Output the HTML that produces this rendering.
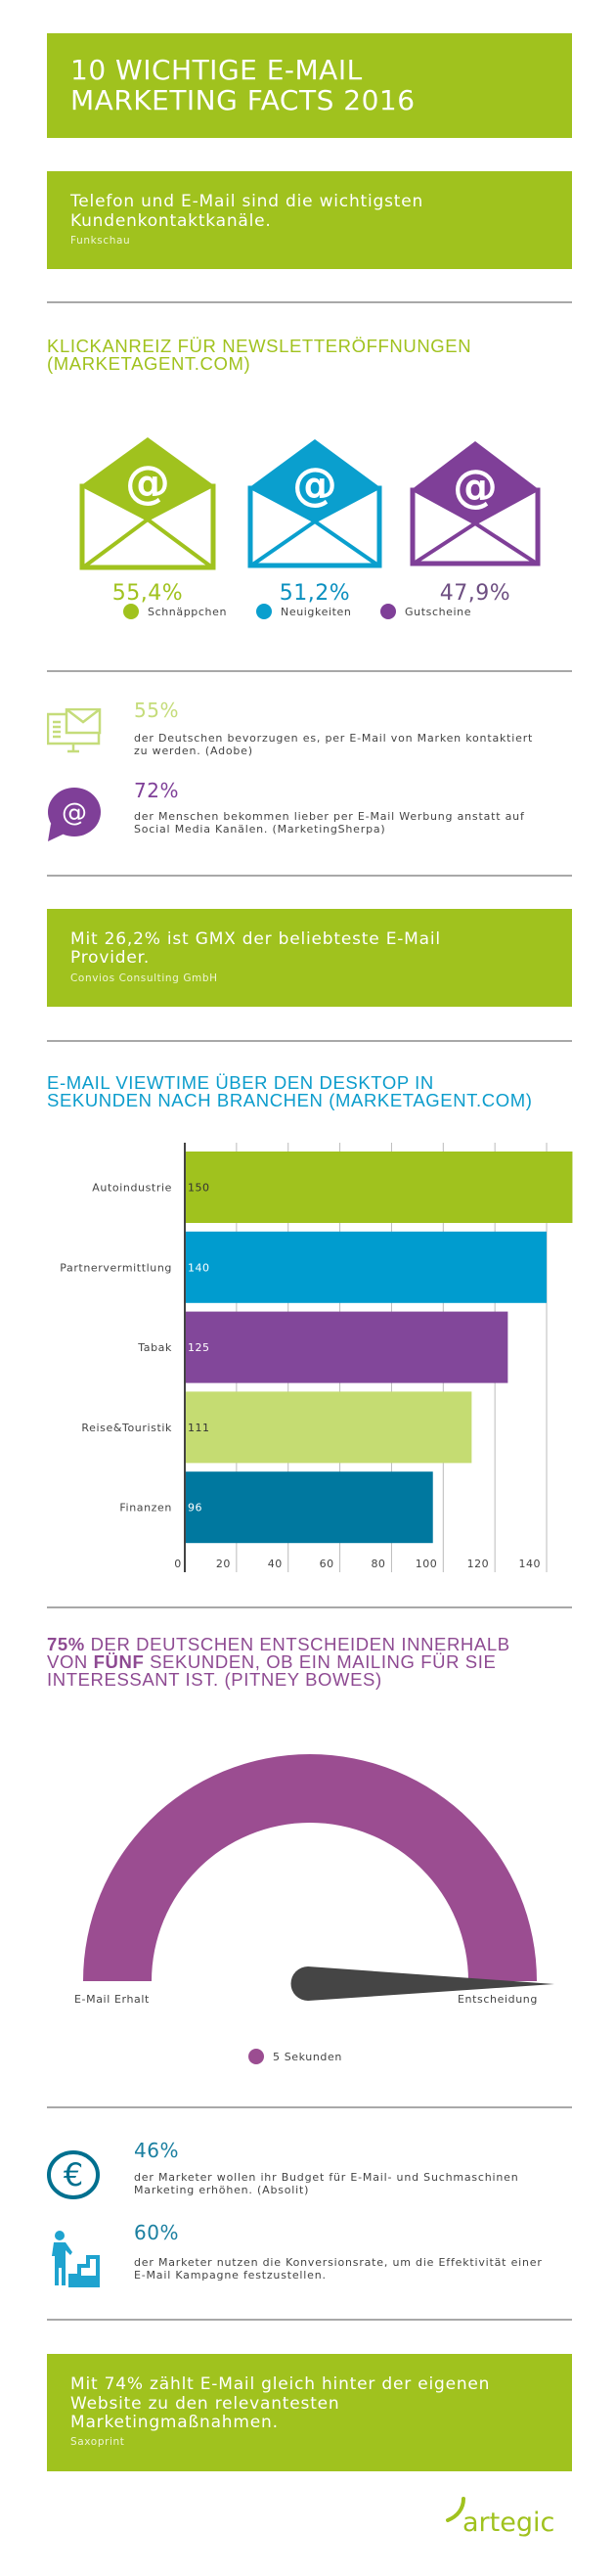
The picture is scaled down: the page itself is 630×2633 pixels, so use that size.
<!DOCTYPE html>
<html><head><meta charset="utf-8"><style>
body{margin:0;width:630px;height:2633px;background:#fff;position:relative;overflow:hidden;font-family:"DejaVu Sans","Liberation Sans",sans-serif;}
.a{position:absolute;white-space:nowrap;}
.box{position:absolute;left:48px;width:537px;background:#a0c21e;}
.hr{position:absolute;left:48px;width:537px;height:2px;background:#a8a8a8;}
.h{font-family:"Liberation Sans",sans-serif;font-size:18.5px;line-height:18px;letter-spacing:0.6px;}
.pct{font-size:20px;letter-spacing:0.5px;}
.desc{font-size:11px;line-height:13px;color:#444;letter-spacing:0.8px;}
</style></head><body>

<div class="box" style="top:34px;height:107px;"></div>
<div class="a" style="left:72px;top:56px;color:#fff;font-size:28px;line-height:31px;letter-spacing:0.5px;">10 WICHTIGE E-MAIL<br>MARKETING FACTS 2016</div>

<div class="box" style="top:175px;height:100px;"></div>
<div class="a" style="left:72px;top:196px;color:#fff;font-size:17px;line-height:20px;letter-spacing:0.8px;">Telefon und E-Mail sind die wichtigsten<br>Kundenkontaktkanäle.</div>
<div class="a" style="left:72px;top:240px;color:#eef5d4;font-size:10.5px;letter-spacing:0.6px;">Funkschau</div>

<div class="hr" style="top:308px;"></div>

<div class="a h" style="left:48px;top:345px;color:#a0c21e;">KLICKANREIZ FÜR NEWSLETTERÖFFNUNGEN<br>(MARKETAGENT.COM)</div>

<svg class="a" id="env" style="left:0;top:430px;" width="630" height="210"></svg>

<div class="hr" style="top:685px;"></div>

<svg class="a" style="left:48px;top:724px;" width="56" height="50">
<g fill="none" stroke="#c5dc7a" stroke-width="2.5">
<rect x="1" y="6" width="52" height="30"/><line x1="21" y1="44" x2="33" y2="44"/><line x1="27" y1="36" x2="27" y2="44"/>
<rect x="20" y="1" width="34" height="24" fill="#fff"/><polyline points="20,1 37,14 54,1"/>
<line x1="6" y1="14" x2="14" y2="14"/><line x1="6" y1="19" x2="14" y2="19"/><line x1="6" y1="24" x2="14" y2="24"/><line x1="6" y1="29" x2="14" y2="29"/>
</g></svg>
<div class="a pct" style="left:137px;top:714px;color:#c5dc7a;">55%</div>
<div class="a desc" style="left:137px;top:748px;">der Deutschen bevorzugen es, per E-Mail von Marken kontaktiert<br>zu werden. (Adobe)</div>

<svg class="a" style="left:48px;top:804px;" width="56" height="58">
<ellipse cx="28" cy="26" rx="27" ry="25" fill="#7f3f98"/><path d="M4,38 L1,56 L18,48 Z" fill="#7f3f98"/>
<text x="28" y="35" text-anchor="middle" fill="#fff" font-size="26" font-family="DejaVu Sans">@</text></svg>
<div class="a pct" style="left:137px;top:796px;color:#7f3f98;">72%</div>
<div class="a desc" style="left:137px;top:828px;">der Menschen bekommen lieber per E-Mail Werbung anstatt auf<br>Social Media Kanälen. (MarketingSherpa)</div>

<div class="hr" style="top:894px;"></div>

<div class="box" style="top:929px;height:100px;"></div>
<div class="a" style="left:72px;top:951px;color:#fff;font-size:17px;line-height:19px;letter-spacing:0.8px;">Mit 26,2% ist GMX der beliebteste E-Mail<br>Provider.</div>
<div class="a" style="left:72px;top:994px;color:#eef5d4;font-size:10.5px;letter-spacing:0.6px;">Convios Consulting GmbH</div>

<div class="hr" style="top:1063px;"></div>

<div class="a h" style="left:48px;top:1098px;color:#0b9ccc;">E-MAIL VIEWTIME ÜBER DEN DESKTOP IN<br>SEKUNDEN NACH BRANCHEN (MARKETAGENT.COM)</div>

<svg class="a" id="bars" style="left:0;top:1160px;" width="630" height="460"></svg>

<div class="hr" style="top:1642px;"></div>

<div class="a h" style="left:48px;top:1672px;color:#8e4a92;"><b>75%</b> DER DEUTSCHEN ENTSCHEIDEN INNERHALB<br>VON <b>FÜNF</b> SEKUNDEN, OB EIN MAILING FÜR SIE<br>INTERESSANT IST. (PITNEY BOWES)</div>

<svg class="a" id="gauge" style="left:0;top:1780px;" width="630" height="340"></svg>

<div class="hr" style="top:2153px;"></div>

<svg class="a" style="left:48px;top:2197px;" width="56" height="54">
<ellipse cx="27" cy="26" rx="25" ry="23" fill="none" stroke="#00708f" stroke-width="4"/>
<text x="27" y="37" text-anchor="middle" fill="#00708f" font-size="32" font-family="DejaVu Sans">€</text></svg>
<div class="a pct" style="left:137px;top:2186px;color:#1a7fa0;">46%</div>
<div class="a desc" style="left:137px;top:2219px;">der Marketer wollen ihr Budget für E-Mail- und Suchmaschinen<br>Marketing erhöhen. (Absolit)</div>

<svg class="a" style="left:52px;top:2280px;" width="50" height="58">
<g fill="#1fa3cf"><circle cx="9" cy="5" r="5"/><path d="M3,12 H15 L22,22 L20,25 L15,20 V56 H11 V38 H8 V56 H4 V26 H1 Z"/>
<path d="M20,56 V46 H29 V36 H38 V27 H48 V56 Z" fill="none" stroke="#1fa3cf" stroke-width="4"/><rect x="20" y="46" width="28" height="10"/></g></svg>
<div class="a pct" style="left:137px;top:2270px;color:#1a7fa0;">60%</div>
<div class="a desc" style="left:137px;top:2306px;">der Marketer nutzen die Konversionsrate, um die Effektivität einer<br>E-Mail Kampagne festzustellen.</div>

<div class="hr" style="top:2370px;"></div>

<div class="box" style="top:2406px;height:120px;"></div>
<div class="a" style="left:72px;top:2428px;color:#fff;font-size:17px;line-height:19.5px;letter-spacing:0.8px;">Mit 74% zählt E-Mail gleich hinter der eigenen<br>Website zu den relevantesten<br>Marketingmaßnahmen.</div>
<div class="a" style="left:72px;top:2490px;color:#eef5d4;font-size:10.5px;letter-spacing:0.6px;">Saxoprint</div>

<svg class="a" style="left:450px;top:2548px;" width="140" height="50">
<path d="M24,6 C24,16 18,24 8,28" fill="none" stroke="#a0c21e" stroke-width="4" stroke-linecap="round"/>
<text x="23" y="39" fill="#a0c21e" font-size="27" font-family="DejaVu Sans">artegic</text></svg>

<script>
const NS="http://www.w3.org/2000/svg";
function mk(p,t,a){const e=document.createElementNS(NS,t);for(const k in a)e.setAttribute(k,a[k]);p.appendChild(e);return e;}

/* envelope chart */
const envCats=["Schnäppchen","Neuigkeiten","Gutscheine"];
const envValues=[55.4,51.2,47.9];
const envColors=["#a0c21e","#0a9fce","#7f3f98"];
const envLabelColors=["#a0c21e","#0a8fbf","#6e4f82"];
const env=document.getElementById('env');
const envX=[82,254,420], envW=[138,136,132];
envCats.forEach((c,i)=>{
  const x=envX[i], w=envW[i], top=17+i*2, h=135-i*4, c2=envColors[i];
  const g=mk(env,'g',{});
  
  
  mk(g,'rect',{x:x+2,y:top+50,width:w-4,height:h-52,fill:'none',stroke:c2,'stroke-width':5});
  mk(g,'polygon',{points:`${x},${top+50} ${x+w/2},${top} ${x+w},${top+50} ${x+w/2},${top+86}`,fill:c2});
  mk(g,'polyline',{points:`${x+3},${top+h-2} ${x+w/2},${top+84} ${x+w-3},${top+h-2}`,fill:'none',stroke:c2,'stroke-width':4});
  const at=mk(g,'text',{x:x+w/2,y:top+62,'text-anchor':'middle',fill:'#fff','font-size':46,'font-family':'DejaVu Sans','font-weight':'bold'});at.textContent='@';
  const t=mk(env,'text',{x:x+w/2,y:183,'text-anchor':'middle',fill:envLabelColors[i],'font-size':22,'font-family':'DejaVu Sans','letter-spacing':'0.5'});
  t.textContent=envValues[i].toFixed(1).replace('.',',')+'%';
  
  
  const lx=[134,270,397][i];
  const dot=mk(env,'circle',{cx:lx,cy:195,r:8,fill:c2});
  
  
  const lt=mk(env,'text',{x:lx+17,y:199,fill:'#444','font-size':11,'font-family':'DejaVu Sans','letter-spacing':'0.6'});
  lt.textContent=c;
  
  
});

/* bar chart */
const barCats=["Autoindustrie","Partnervermittlung","Tabak","Reise&Touristik","Finanzen"];
const barValues=[150,140,125,111,96];
const barColors=["#a0c21e","#009ccf","#82479a","#c5dc72","#00789f"];
const valColors=["#333","#fff","#fff","#333","#fff"];
const xTicks=[0,20,40,60,80,100,120,140];
const bars=document.getElementById('bars');
const x0=189, pxPer=2.643, yTop=17, band=81.8, barH=73, gridTop=8, gridBot=447;
const xs=v=>x0+v*pxPer, ys=i=>yTop+i*band;
xTicks.forEach(t=>{
  if(t>0){const l=mk(bars,'line',{x1:xs(t),x2:xs(t),y1:gridTop,y2:gridBot,stroke:'#bbb','stroke-width':1});
  
  }
  const tx=mk(bars,'text',{x:t===0?x0-7:xs(t)-6,y:442,'text-anchor':t===0?'middle':'end',fill:'#444','font-size':11,'font-family':'DejaVu Sans','letter-spacing':'0.5'});
  tx.textContent=t;
  
  
});
barCats.forEach((c,i)=>{
  const r=mk(bars,'rect',{x:x0,y:ys(i),width:xs(barValues[i])-x0,height:barH,fill:barColors[i]});
  
  
  const l=mk(bars,'text',{x:176,y:ys(i)+barH/2+4,'text-anchor':'end',fill:'#444','font-size':11,'font-family':'DejaVu Sans','letter-spacing':'0.6'});
  l.textContent=c;
  
  
  const v=mk(bars,'text',{x:x0+3,y:ys(i)+barH/2+4,fill:valColors[i],'font-size':11,'font-family':'DejaVu Sans','letter-spacing':'0.5'});
  v.textContent=barValues[i];
  
  
});
const ax=mk(bars,'line',{x1:x0,x2:x0,y1:gridTop,y2:gridBot,stroke:'#444','stroke-width':2});



/* gauge */
const gaugeValue=[5];
const gaugeMax=[5];
const g=document.getElementById('gauge');
const cx=317, cy=245, R=232, r=162;
const arc=mk(g,'path',{d:`M${cx-R},${cy} A${R},${R} 0 0 1 ${cx+R},${cy} L${cx+r},${cy} A${r},${r} 0 0 0 ${cx-r},${cy} Z`,fill:'#9b4d91'});


const ang=Math.PI*(1-gaugeValue[0]/gaugeMax[0]);
const L=252, bx=cx-2, tipX=bx+L*Math.cos(ang), tipY=cy+3-L*Math.sin(ang);
const nd=mk(g,'path',{d:`M${bx},${cy-15} L${tipX},${tipY} L${bx},${cy+20} A17.5,17.5 0 0 1 ${bx},${cy-15} Z`,fill:'#454545'});


const l1=mk(g,'text',{x:76,y:267,fill:'#444','font-size':11,'font-family':'DejaVu Sans','letter-spacing':'0.6'});l1.textContent='E-Mail Erhalt';


const l2=mk(g,'text',{x:468,y:267,fill:'#444','font-size':11,'font-family':'DejaVu Sans','letter-spacing':'0.6'});l2.textContent='Entscheidung';


const ld=mk(g,'circle',{cx:262,cy:322,r:8,fill:'#9b4d91'});


const lt=mk(g,'text',{x:279,y:326,fill:'#444','font-size':11,'font-family':'DejaVu Sans','letter-spacing':'0.6'});lt.textContent=gaugeValue[0]+' Sekunden';


</script>
</body></html>
